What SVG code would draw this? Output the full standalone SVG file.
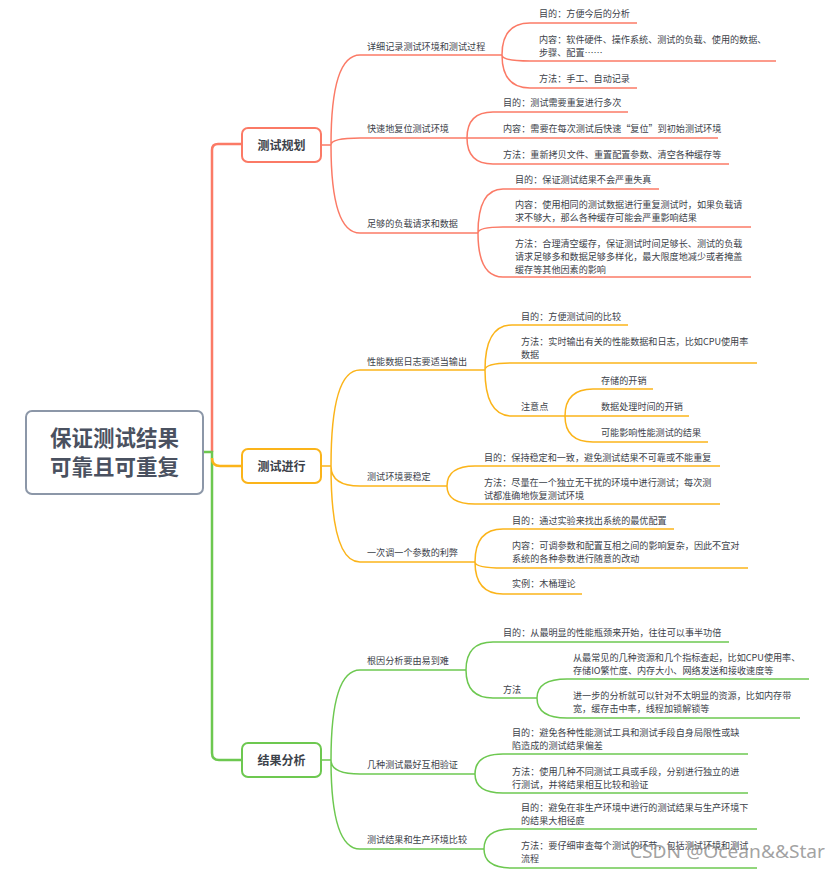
<svg xmlns="http://www.w3.org/2000/svg" width="840" height="870" viewBox="0 0 840 870">
<style>
.t{font-family:"Noto Sans CJK SC","Noto Sans",sans-serif;font-size:9.1px;fill:#3c424a}
.n{font-family:"Noto Sans CJK SC","Noto Sans",sans-serif;font-size:12px;font-weight:bold;fill:#3c424a;text-anchor:middle}
.r{font-family:"Noto Sans CJK SC","Noto Sans",sans-serif;font-size:21.5px;font-weight:bold;fill:#4a5160;text-anchor:middle}
.cr{fill:none;stroke:#fb7a66;stroke-width:1.5}
.co{fill:none;stroke:#fbb41a;stroke-width:1.5}
.cg{fill:none;stroke:#6dc850;stroke-width:1.5}
.box{fill:#fff;stroke-width:2}
</style>
<rect width="840" height="870" fill="#fff"/>
<g id="connectors">
<path d="M212,452 L212,150 Q212,144 218,144 L242,144" fill="none" stroke="#fb7a66" stroke-width="2.5"/>
<path d="M203,452 L212,452 L212,753 Q212,760 219,760 L242,760" fill="none" stroke="#6dc850" stroke-width="2.5"/>
<path d="M212,458 Q212,466 220,466 L242,466" fill="none" stroke="#fbb41a" stroke-width="2.5"/>
<path class="cr" d="M321,145 L331,145 M331,145 Q331,55 360,55 M331,145 Q331,138 360,138 M331,145 Q331,233 360,233"/>
<path class="cr" d="M502,55 Q502,23 530,23 M502,55 Q502,61 530,61 M502,55 Q502,88 530,88"/>
<path class="cr" d="M467,138 Q467,112 493,112 M467,138 L493,138 M467,138 Q467,164 493,164"/>
<path class="cr" d="M478,233 Q478,189 503,189 M478,233 Q478,227 503,227 M478,233 Q478,277 503,277"/>
<path class="co" d="M321,466 L331,466 M331,466 Q331,370 360,370 M331,466 Q331,486 360,486 M331,466 Q331,562 360,562"/>
<path class="co" d="M485,370 Q485,325 512,325 M485,370 Q485,363 512,363 M485,370 Q485,416 512,416"/>
<path class="co" d="M565,416 Q565,389 593,389 M565,416 L593,416 M565,416 Q565,442 593,442"/>
<path class="co" d="M447,486 Q447,466 475,466 M447,486 Q447,504 475,504"/>
<path class="co" d="M475,562 Q475,529 503,529 M475,562 Q475,568 503,568 M475,562 Q475,594 503,594"/>
<path class="cg" d="M321,760 L331,760 M331,760 Q331,670 360,670 M331,760 Q331,774 360,774 M331,760 Q331,849 360,849"/>
<path class="cg" d="M466,670 Q466,642 493,642 M466,670 Q466,698 493,698"/>
<path class="cg" d="M537,698 Q537,679 567,679 M537,698 Q537,718 567,718"/>
<path class="cg" d="M475,774 Q475,754 503,754 M475,774 Q475,793 503,793"/>
<path class="cg" d="M484,849 Q484,829 512,829 M484,849 Q484,868 512,868"/>
</g>
<g id="root"><rect x="26" y="411" width="177" height="83" rx="6" class="box" stroke="#8c97a8"/><text class="r" x="114.5" y="446">保证测试结果</text><text class="r" x="114.5" y="475">可靠且可重复</text></g>
<g id="n-plan"><rect x="242" y="128" width="79" height="34" rx="6" class="box" stroke="#fb7a66"/><text class="n" x="281.5" y="149.5">测试规划</text></g>
<g id="n-run"><rect x="242" y="449" width="79" height="34" rx="6" class="box" stroke="#fbb41a"/><text class="n" x="281.5" y="470.5">测试进行</text></g>
<g id="n-ana"><rect x="242" y="743" width="79" height="34" rx="6" class="box" stroke="#6dc850"/><text class="n" x="281.5" y="764.5">结果分析</text></g>

<g id="a1"><text class="t" x="367" y="49.5">详细记录测试环境和测试过程</text><path class="cr" d="M360,55 H502"/></g>
<g id="a1-1"><text class="t" x="539" y="16.5">目的：方便今后的分析</text><path class="cr" d="M530,23 H637"/></g>
<g id="a1-2"><text class="t" x="539" y="42.5">内容：软件硬件、操作系统、测试的负载、使用的数据、</text><text class="t" x="539" y="55.5">步骤、配置……</text><path class="cr" d="M530,61 H776"/></g>
<g id="a1-3"><text class="t" x="539" y="81.5">方法：手工、自动记录</text><path class="cr" d="M530,88 H637"/></g>
<g id="a2"><text class="t" x="367" y="131.5">快速地复位测试环境</text><path class="cr" d="M360,138 H467"/></g>
<g id="a2-1"><text class="t" x="503" y="105.5">目的：测试需要重复进行多次</text><path class="cr" d="M493,112 H628"/></g>
<g id="a2-2"><text class="t" x="503" y="131.5">内容：需要在每次测试后快速“复位”到初始测试环境</text><path class="cr" d="M493,138 H718"/></g>
<g id="a2-3"><text class="t" x="503" y="157.5">方法：重新拷贝文件、重置配置参数、清空各种缓存等</text><path class="cr" d="M493,164 H729"/></g>
<g id="a3"><text class="t" x="367" y="226.5">足够的负载请求和数据</text><path class="cr" d="M360,233 H478"/></g>
<g id="a3-1"><text class="t" x="515" y="182.5">目的：保证测试结果不会严重失真</text><path class="cr" d="M503,189 H659"/></g>
<g id="a3-2"><text class="t" x="515" y="207.5">内容：使用相同的测试数据进行重复测试时，如果负载请</text><text class="t" x="515" y="220.5">求不够大，那么各种缓存可能会严重影响结果</text><path class="cr" d="M503,227 H751"/></g>
<g id="a3-3"><text class="t" x="515" y="246.5">方法：合理清空缓存，保证测试时间足够长、测试的负载</text><text class="t" x="515" y="259.5">请求足够多和数据足够多样化，最大限度地减少或者掩盖</text><text class="t" x="515" y="272.5">缓存等其他因素的影响</text><path class="cr" d="M503,277 H751"/></g>

<g id="b1"><text class="t" x="367" y="364.5">性能数据日志要适当输出</text><path class="co" d="M360,370 H485"/></g>
<g id="b1-1"><text class="t" x="521" y="319.5">目的：方便测试间的比较</text><path class="co" d="M512,325 H628"/></g>
<g id="b1-2"><text class="t" x="521" y="344.5">方法：实时输出有关的性能数据和日志，比如CPU使用率</text><text class="t" x="521" y="357.5">数据</text><path class="co" d="M512,363 H757"/></g>
<g id="b1-3"><text class="t" x="521" y="409.5">注意点</text><path class="co" d="M512,416 H565"/></g>
<g id="b1-3-1"><text class="t" x="601" y="383.5">存储的开销</text><path class="co" d="M593,389 H653"/></g>
<g id="b1-3-2"><text class="t" x="601" y="409.5">数据处理时间的开销</text><path class="co" d="M593,416 H689"/></g>
<g id="b1-3-3"><text class="t" x="601" y="435.5">可能影响性能测试的结果</text><path class="co" d="M593,442 H708"/></g>
<g id="b2"><text class="t" x="367" y="479.5">测试环境要稳定</text><path class="co" d="M360,486 H447"/></g>
<g id="b2-1"><text class="t" x="484" y="460.5">目的：保持稳定和一致，避免测试结果不可靠或不能重复</text><path class="co" d="M475,466 H720"/></g>
<g id="b2-2"><text class="t" x="484" y="485.5">方法：尽量在一个独立无干扰的环境中进行测试；每次测</text><text class="t" x="484" y="498.5">试都准确地恢复测试环境</text><path class="co" d="M475,504 H720"/></g>
<g id="b3"><text class="t" x="367" y="555.5">一次调一个参数的利弊</text><path class="co" d="M360,562 H475"/></g>
<g id="b3-1"><text class="t" x="512" y="523.5">目的：通过实验来找出系统的最优配置</text><path class="co" d="M503,529 H674"/></g>
<g id="b3-2"><text class="t" x="512" y="549">内容：可调参数和配置互相之间的影响复杂，因此不宜对</text><text class="t" x="512" y="562">系统的各种参数进行随意的改动</text><path class="co" d="M503,568 H748"/></g>
<g id="b3-3"><text class="t" x="512" y="586.5">实例：木桶理论</text><path class="co" d="M503,594 H582"/></g>

<g id="c1"><text class="t" x="367" y="663.5">根因分析要由易到难</text><path class="cg" d="M360,670 H466"/></g>
<g id="c1-1"><text class="t" x="503" y="635.5">目的：从最明显的性能瓶颈来开始，往往可以事半功倍</text><path class="cg" d="M493,642 H729"/></g>
<g id="c1-2"><text class="t" x="503" y="692.5">方法</text><path class="cg" d="M493,698 H537"/></g>
<g id="c1-2-1"><text class="t" x="573" y="661">从最常见的几种资源和几个指标查起，比如CPU使用率、</text><text class="t" x="573" y="674">存储IO繁忙度、内存大小、网络发送和接收速度等</text><path class="cg" d="M567,679 H809"/></g>
<g id="c1-2-2"><text class="t" x="573" y="699">进一步的分析就可以针对不太明显的资源，比如内存带</text><text class="t" x="573" y="712">宽，缓存击中率，线程加锁解锁等</text><path class="cg" d="M567,718 H800"/></g>
<g id="c2"><text class="t" x="367" y="767.5">几种测试最好互相验证</text><path class="cg" d="M360,774 H475"/></g>
<g id="c2-1"><text class="t" x="512" y="735.5">目的：避免各种性能测试工具和测试手段自身局限性或缺</text><text class="t" x="512" y="748.5">陷造成的测试结果偏差</text><path class="cg" d="M503,754 H748"/></g>
<g id="c2-2"><text class="t" x="512" y="774.5">方法：使用几种不同测试工具或手段，分别进行独立的进</text><text class="t" x="512" y="787.5">行测试，并将结果相互比较和验证</text><path class="cg" d="M503,793 H748"/></g>
<g id="c3"><text class="t" x="367" y="842.5">测试结果和生产环境比较</text><path class="cg" d="M360,849 H484"/></g>
<g id="c3-1"><text class="t" x="521" y="811">目的：避免在非生产环境中进行的测试结果与生产环境下</text><text class="t" x="521" y="824">的结果大相径庭</text><path class="cg" d="M512,829 H757"/></g>
<g id="c3-2"><text class="t" x="521" y="849">方法：要仔细审查每个测试的环节，包括测试环境和测试</text><text class="t" x="521" y="862">流程</text><path class="cg" d="M512,868 H757"/></g>
<text x="630" y="858" font-family="Noto Sans, sans-serif" font-size="18" fill="#8a8a8a" fill-opacity="0.8" textLength="195" lengthAdjust="spacingAndGlyphs">CSDN @Ocean&amp;&amp;Star</text>
</svg>
